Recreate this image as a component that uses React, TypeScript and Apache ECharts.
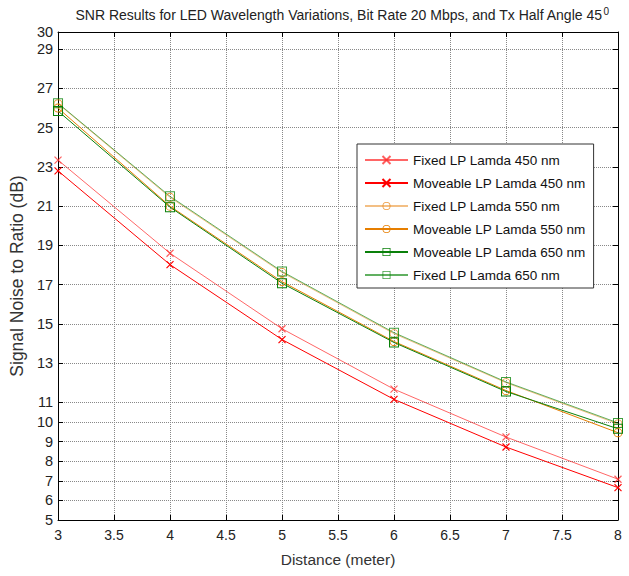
import React, { useEffect, useRef } from "react";
import * as echarts from "echarts";

const titleMain = "SNR Results for LED Wavelength Variations, Bit Rate 20 Mbps, and Tx Half Angle 45";
const titleSup = "0";
const xName = "Distance (meter)";
const yName = "Signal Noise to Ratio (dB)";

const distances = [3, 4, 5, 6, 7, 8];
const fixed450 = [23.35, 18.6, 14.75, 11.67, 9.23, 7.08];
const moveable450 = [22.8, 18.02, 14.2, 11.15, 8.72, 6.65];
const fixed550 = [26.22, 21.45, 17.62, 14.5, 12.0, 9.9];
const moveable550 = [26.0, 21.0, 17.15, 14.1, 11.6, 9.45];
const moveable650 = [25.85, 20.95, 17.07, 14.05, 11.55, 9.65];
const fixed650 = [26.25, 21.5, 17.67, 14.55, 12.04, 9.95];

const yTickValues = [5, 6, 7, 8, 9, 10, 11, 13, 15, 17, 19, 21, 23, 25, 27, 29, 29.88];
const yTickLabels = ["5", "6", "7", "8", "9", "10", "11", "13", "15", "17", "19", "21", "23", "25", "27", "29", "30"];

const CROSS = "path://M0,0L10,10M10,0L0,10";
const SQUARE = "path://M0,0H10V10H0Z M1,1V9H9V1Z";
const CIRCLE = "path://M5,0A5,5,0,1,1,5,10A5,5,0,1,1,5,0Z M5,1A4,4,0,1,0,5,9A4,4,0,1,0,5,1Z";

const FONT = "'Liberation Sans', Arial, sans-serif";

function pairs(vals: number[]) {
  return distances.map((d, i) => [d, vals[i]]);
}

function mk(name: string, vals: number[], lineColor: string, markColor: string, symbol: string, size: number, cross: boolean) {
  return {
    name,
    type: "line",
    data: pairs(vals),
    symbol,
    symbolSize: size,
    showSymbol: true,
    lineStyle: { color: lineColor, width: 1 },
    itemStyle: cross
      ? { color: markColor, borderColor: markColor, borderWidth: 1.2 }
      : { color: markColor, borderWidth: 0 },
    emphasis: { disabled: true },
  };
}

export default function App() {
  const ref = useRef<HTMLDivElement>(null);
  useEffect(() => {
    if (!ref.current) return;
    const chart = echarts.init(ref.current, null, { renderer: "svg" });
    const tickLabelMap: Record<string, string> = {};
    yTickValues.forEach((v, i) => (tickLabelMap[String(v)] = yTickLabels[i]));
    chart.setOption({
      animation: false,
      backgroundColor: "#fff",
      textStyle: { fontFamily: FONT },
      graphic: [
        {
          type: "text",
          x: 342,
          y: 6,
          style: {
            text: titleMain + "{sup|" + titleSup + "}",
            font: "14px " + FONT,
            fill: "#222",
            align: "center",
            rich: { sup: { fontSize: 10, verticalAlign: "top", fill: "#222", fontFamily: FONT, padding: [0, 0, 8, 1] } },
          },
        },
      ],
      grid: { left: 57, right: 11, top: 32, bottom: 56, containLabel: false },
      legend: {
        orient: "vertical",
        left: 357,
        top: 144,
        itemWidth: 43,
        itemHeight: 10,
        itemGap: 9,
        padding: [9, 8, 6, 7],
        backgroundColor: "#fff",
        borderColor: "#333",
        borderWidth: 1,
        borderRadius: 0,
        textStyle: { fontSize: 13.5, color: "#111", fontFamily: FONT },
        data: [
          "Fixed LP Lamda 450 nm",
          "Moveable LP Lamda 450 nm",
          "Fixed LP Lamda 550 nm",
          "Moveable LP Lamda 550 nm",
          "Moveable LP Lamda 650 nm",
          "Fixed LP Lamda 650 nm",
        ],
      },
      xAxis: [
        {
          type: "value",
          min: 3,
          max: 8,
          interval: 0.5,
          name: xName,
          nameLocation: "middle",
          nameGap: 31,
          nameTextStyle: { fontSize: 15.5, color: "#333", fontFamily: FONT },
          axisLine: { lineStyle: { color: "#000", width: 1 } },
          axisTick: { inside: true, length: 5, lineStyle: { color: "#000" } },
          axisLabel: { fontSize: 14, color: "#222", margin: 8, fontFamily: FONT },
          splitLine: { show: true, lineStyle: { color: "#888", type: [1, 1], width: 1 } },
        },
        {
          type: "value",
          position: "top",
          min: 3,
          max: 8,
          interval: 0.5,
          axisLine: { show: true, lineStyle: { color: "#000", width: 1 } },
          axisTick: { show: true, inside: true, length: 5, lineStyle: { color: "#000" } },
          axisLabel: { show: false },
          splitLine: { show: false },
        },
      ],
      yAxis: [
        {
          type: "value",
          min: 5,
          max: 29.88,
          name: yName,
          nameLocation: "middle",
          nameGap: 28,
          nameTextStyle: { fontSize: 17.5, color: "#333", fontFamily: FONT },
          axisLine: { show: true, lineStyle: { color: "#000", width: 1 } },
          axisTick: { show: true, inside: true, length: 5, customValues: yTickValues, lineStyle: { color: "#000" } },
          axisLabel: {
            fontSize: 14.5,
            color: "#222",
            margin: 5,
            fontFamily: FONT,
            customValues: yTickValues,
            formatter: (v: number) => tickLabelMap[String(v)] ?? "",
          },
          splitLine: { show: true, lineStyle: { color: "#888", type: [1, 1], width: 1 } },
        },
        {
          type: "value",
          position: "right",
          min: 5,
          max: 29.88,
          axisLine: { show: true, lineStyle: { color: "#000", width: 1 } },
          axisTick: { show: true, inside: true, length: 5, customValues: yTickValues, lineStyle: { color: "#000" } },
          axisLabel: { show: false, customValues: yTickValues },
          splitLine: { show: false },
        },
      ],
      series: [
        mk("Fixed LP Lamda 450 nm", fixed450, "rgba(255,0,0,0.6)", "rgba(255,40,40,0.75)", CROSS, 7, true),
        mk("Moveable LP Lamda 450 nm", moveable450, "#FF0000", "#FF0000", CROSS, 7, true),
        mk("Fixed LP Lamda 550 nm", fixed550, "rgba(232,128,10,0.5)", "rgba(232,128,10,0.8)", CIRCLE, 9, false),
        mk("Moveable LP Lamda 550 nm", moveable550, "#E67E00", "#E67E00", CIRCLE, 9, false),
        mk("Moveable LP Lamda 650 nm", moveable650, "#0A800A", "#0A800A", SQUARE, 10, false),
        mk("Fixed LP Lamda 650 nm", fixed650, "rgba(0,128,0,0.62)", "rgba(0,128,0,0.75)", SQUARE, 10, false),
      ],
    });
    return () => chart.dispose();
  }, []);
  return <div ref={ref} style={{ width: 629, height: 576, position: "absolute", left: 0, top: 0 }} />;
}
